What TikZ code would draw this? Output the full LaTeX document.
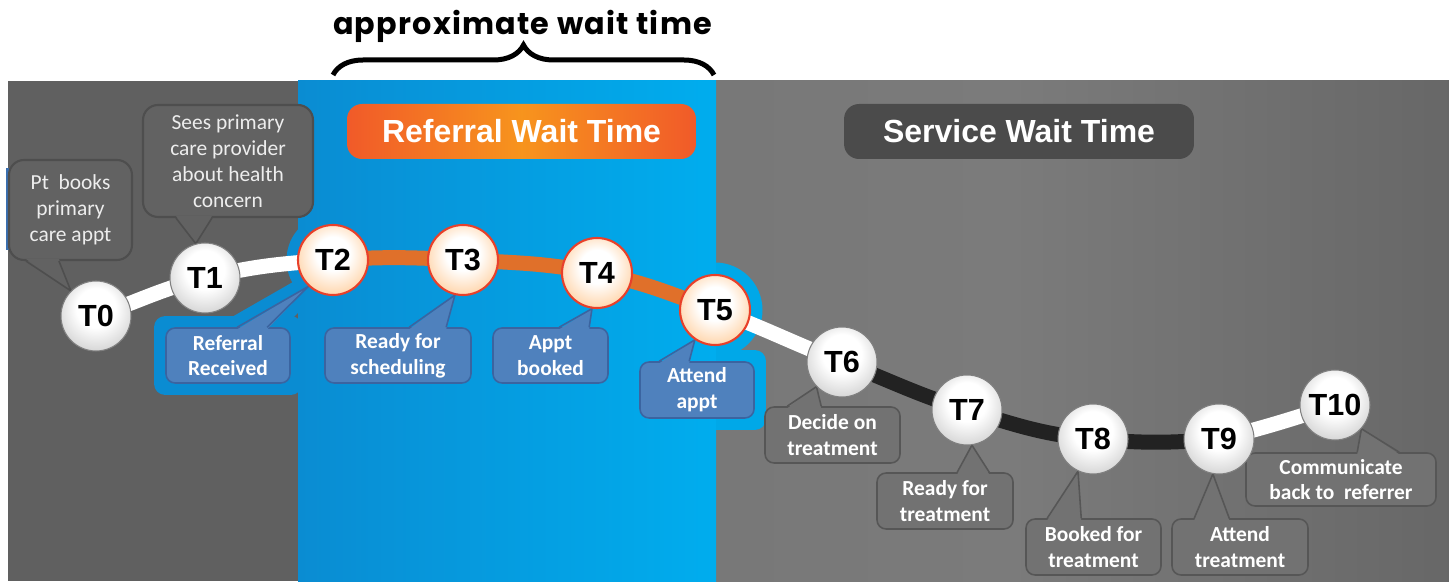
\documentclass[tikz,border=0pt]{standalone}
\usepackage{fontspec}
\setmainfont{Liberation Sans}
\newfontfamily\calfont{Carlito}
\newfontfamily\popfont[LetterSpace=4]{Poppins}
\usetikzlibrary{decorations.pathreplacing,calc}
\pgfdeclarelayer{grayback}
\pgfdeclarelayer{halo}
\pgfdeclarelayer{blueback}
\pgfdeclarelayer{lines}
\pgfdeclarelayer{front}
\pgfsetlayers{grayback,halo,blueback,lines,main,front}
\definecolor{leftgray}{HTML}{606060}
\definecolor{rgA}{HTML}{747474}
\definecolor{rgB}{HTML}{7B7B7B}
\definecolor{rgC}{HTML}{575757}
\definecolor{blueL}{HTML}{0A8CD2}
\definecolor{blueR}{HTML}{00ADEE}
\definecolor{haloA}{HTML}{0A8CD2}
\definecolor{haloB}{HTML}{00A8E8}
\definecolor{cbblue}{HTML}{4F81BD}
\definecolor{cbborder}{HTML}{3B64A0}
\definecolor{gtfill}{HTML}{626262}
\definecolor{gtborder}{HTML}{4E4E4E}
\definecolor{gbfill}{HTML}{727272}
\definecolor{gbborder}{HTML}{565656}
\definecolor{segorange}{HTML}{E0702A}
\definecolor{segblack}{HTML}{222222}
\definecolor{orEdge}{HTML}{F15A29}
\definecolor{orMid}{HTML}{F7941D}
\definecolor{svcbox}{HTML}{4B4B4B}
\definecolor{ballred}{HTML}{E8402A}
\definecolor{stripblue}{HTML}{3A6FB0}
\pgfdeclarehorizontalshading{rightgray}{100bp}{color(0bp)=(rgA); color(45bp)=(rgB); color(100bp)=(rgC)}
\pgfdeclareradialshading{grayball}{\pgfpoint{0bp}{8bp}}{color(0bp)=(white); color(14bp)=(white); color(36bp)=(black!24); color(50bp)=(black!46)}
\pgfdeclareradialshading{orangeball}{\pgfpoint{0bp}{6bp}}{color(0bp)=(white); color(12bp)=(white); color(34bp)=(orange!45!white); color(50bp)=(orEdge)}
\newcommand\Tfont{\fontsize{17.4}{20}\selectfont\bfseries}
\newcommand\cbfont{\calfont\fontsize{12.2}{14.7}\selectfont\bfseries}
\newcommand\crfont{\calfont\fontsize{12.2}{14.7}\selectfont}
\newcommand\hdrfont{\fontsize{18.2}{21}\selectfont\bfseries}
\newcommand\mkptrtop[6]{%
  \fill[#1] ([xshift=#4cm,yshift=-1.2pt]#3.north west) -- (#6) -- ([xshift=#5cm,yshift=-1.2pt]#3.north west) -- cycle;
  \draw[#2, line width=0.9pt] ([xshift=#4cm]#3.north west) -- (#6) -- ([xshift=#5cm]#3.north west);}
\newcommand\mkptrbot[6]{%
  \fill[#1] ([xshift=#4cm,yshift=1.2pt]#3.south west) -- (#6) -- ([xshift=#5cm,yshift=1.2pt]#3.south west) -- cycle;
  \draw[#2, line width=0.9pt] ([xshift=#4cm]#3.south west) -- (#6) -- ([xshift=#5cm]#3.south west);}
\tikzset{
  gball/.style={circle, minimum size=1.4cm, inner sep=0pt, shading=grayball, draw=black!50, line width=0.6pt, font=\Tfont},
  oball/.style={circle, minimum size=1.4cm, inner sep=0pt, shading=orangeball, draw=ballred, line width=1.2pt, font=\Tfont},
  bbox/.style={rectangle, rounded corners=0.18cm, fill=cbblue, draw=cbborder, line width=0.9pt, text=white, font=\cbfont, align=center, inner sep=0pt},
  gboxb/.style={rectangle, rounded corners=0.18cm, fill=gbfill, draw=gbborder, line width=0.9pt, text=white, font=\cbfont, align=center, inner sep=0pt},
  gboxt/.style={rectangle, rounded corners=0.3cm, fill=gtfill, draw=gtborder, line width=1.2pt, text=white!93!black, font=\crfont, align=center, inner sep=0pt},
  hdr/.style={rectangle, rounded corners=0.3cm, text=white, font=\hdrfont, minimum height=1.1cm, inner sep=0pt},
  seg/.style={line width=0.3cm},
  halostyle/.style={draw=#1, fill=#1, line width=0.46cm, line join=round}
}
\begin{document}
\begin{tikzpicture}[x=0.02cm, y=0.02cm]
\useasboundingbox (0,0) rectangle (1449,581);
\begin{pgfonlayer}{grayback}
\fill[white] (0,0) rectangle (1449,581);
\fill[leftgray] (8,0) rectangle (298,500);
\shade[shading=rightgray] (716,0) rectangle (1449,500);
\fill[stripblue] (5.5,331) rectangle (8.5,413);
\end{pgfonlayer}
\begin{pgfonlayer}{blueback}
\shade[left color=blueL, right color=blueR] (298,0) rectangle (716,500);
\end{pgfonlayer}
% title and brace
\node[font=\popfont\bfseries, anchor=base, inner sep=0pt] (title) at (522.5,546) {\resizebox{7.58cm}{!}{approximate wait time}};
\coordinate (braceL) at (333,506);
\coordinate (braceR) at (714,506);
\draw[decorate, decoration={brace, amplitude=0.6cm}, line width=0.1cm] (braceL) -- (braceR);
% headers
\node[hdr, left color=orEdge, right color=orEdge, middle color=orMid, minimum width=6.98cm] (RWT) at (521.5,449.5) {Referral Wait Time};
\node[hdr, fill=svcbox, minimum width=7.0cm] (SWT) at (1019,449.5) {Service Wait Time};
% balls
\begin{pgfonlayer}{front}
\node[gball] (T0) at (96,265) {T0};
\node[gball] (T1) at (205,303) {T1};
\node[oball] (T2) at (333,321) {T2};
\node[oball] (T3) at (463,321) {T3};
\node[oball] (T4) at (597,308) {T4};
\node[oball] (T5) at (715,271) {T5};
\node[gball] (T6) at (842,219) {T6};
\node[gball] (T7) at (967,171) {T7};
\node[gball] (T8) at (1093,142) {T8};
\node[gball] (T9) at (1219,142) {T9};
\node[gball] (T10) at (1335,176) {T10};
\end{pgfonlayer}
% callout boxes
\node[gboxt, minimum width=2.46cm, minimum height=2cm] (PB) at (70.5,371) {Pt~ books\\primary\\care appt};
\node[gboxt, minimum width=3.4cm, minimum height=2.24cm] (SP) at (228,420) {Sees primary\\care provider\\about health\\concern};
\node[bbox, minimum width=2.48cm, minimum height=1.1cm] (RR) at (228,225.5) {Referral\\Received};
\node[bbox, minimum width=2.92cm, minimum height=1.1cm] (RS) at (398,225.5) {Ready for\\scheduling};
\node[bbox, minimum width=2.3cm, minimum height=1.1cm] (AB) at (550.5,225.5) {Appt\\booked};
\node[bbox, minimum width=2.28cm, minimum height=1.12cm] (AA) at (697,191) {Attend\\appt};
\node[gboxb, minimum width=2.7cm, minimum height=1.12cm] (DT) at (832.5,146) {Decide on\\treatment};
\node[gboxb, minimum width=2.72cm, minimum height=1.12cm] (RT) at (945,80) {Ready for\\treatment};
\node[gboxb, minimum width=2.7cm, minimum height=1.12cm] (BT) at (1093.5,34) {Booked for\\treatment};
\node[gboxb, minimum width=2.72cm, minimum height=1.12cm] (AT) at (1240,34) {Attend\\treatment};
\node[gboxb, minimum width=3.8cm, minimum height=1.06cm] (CB) at (1341,101.5) {Communicate\\back to~ referrer};
% pointers
\mkptrbot{gtfill}{gtborder}{PB}{0.36}{1.02}{T0.135}
\mkptrbot{gtfill}{gtborder}{SP}{0.68}{1.40}{T1.105}
\mkptrtop{cbblue}{cbborder}{RR}{1.44}{2.04}{T2.227}
\mkptrtop{cbblue}{cbborder}{RS}{1.70}{2.44}{T3.257}
\mkptrtop{cbblue}{cbborder}{AB}{1.34}{1.94}{T4.262}
\mkptrtop{cbblue}{cbborder}{AA}{0.40}{1.00}{T5.236}
\mkptrtop{gbfill}{gbborder}{DT}{0.46}{1.14}{T6.224}
\mkptrtop{gbfill}{gbborder}{RT}{1.62}{2.26}{T7.278}
\mkptrtop{gbfill}{gbborder}{BT}{0.44}{1.12}{T8.245}
\mkptrtop{gbfill}{gbborder}{AT}{0.46}{1.16}{T9.260}
\mkptrtop{gbfill}{gbborder}{CB}{2.24}{3.08}{T10.318}
% path segments
\begin{pgfonlayer}{lines}
\draw[seg, white] (T0.center) to[out=19, in=194] (T1.center);
\draw[seg, white] (T1.center) to[out=14, in=184] (T2.center);
\draw[seg, segorange] (T2.center) to[out=4, in=177] (T3.center);
\draw[seg, segorange] (T3.center) to[out=-3, in=169] (T4.center);
\draw[seg, segorange] (T4.center) to[out=-11, in=160] (T5.center);
\draw[seg, white] (T5.center) to[out=-20, in=159] (T6.center);
\draw[seg, segblack] (T6.center) to[out=-21, in=163] (T7.center);
\draw[seg, segblack] (T7.center) to[out=-17, in=175] (T8.center);
\draw[seg, segblack] (T8.center) to[out=-5, in=185] (T9.center);
\draw[seg, white] (T9.center) to[out=14, in=198] (T10.center);
\end{pgfonlayer}
% halos
\begin{pgfonlayer}{halo}
\path[halostyle=haloA] (RR.north west) rectangle (RR.south east);
\path[halostyle=haloA] ([xshift=1.44cm]RR.north west) -- (T2.227) -- ([xshift=2.04cm]RR.north west) -- cycle;
\fill[haloA] (T2) circle (0.93cm);
\path[halostyle=haloB] (AA.north west) rectangle (AA.south east);
\path[halostyle=haloB] ([xshift=0.40cm]AA.north west) -- (T5.236) -- ([xshift=1.00cm]AA.north west) -- cycle;
\fill[haloB] (T5) circle (0.95cm);
\end{pgfonlayer}
\end{tikzpicture}
\end{document}
